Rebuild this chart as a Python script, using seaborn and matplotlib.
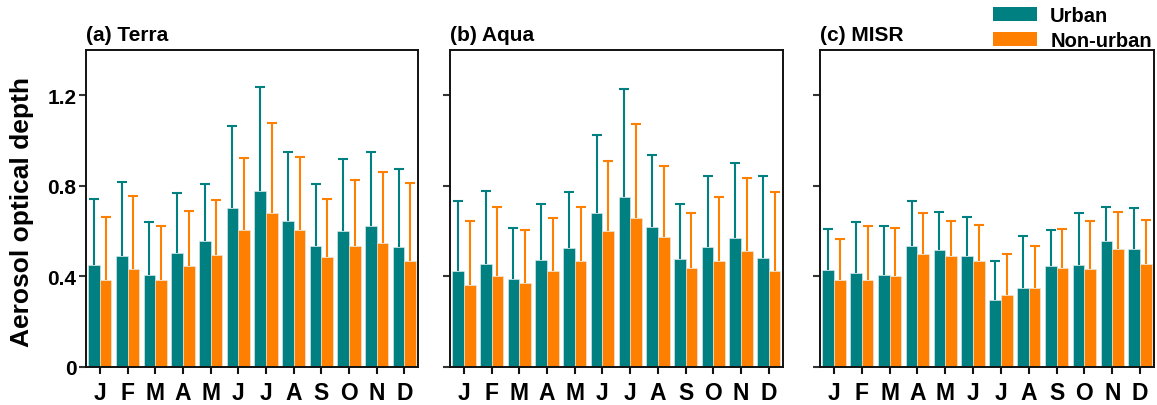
import numpy as np
import pandas as pd
import matplotlib
matplotlib.use("Agg")
import matplotlib.pyplot as plt
from matplotlib.patches import Patch
import seaborn as sns

months = ["J", "F", "M", "A", "M", "J", "J", "A", "S", "O", "N", "D"]
panel_titles = ["(a) Terra", "(b) Aqua", "(c) MISR"]
groups = ["Urban", "Non-urban"]

terra_urban = [0.450, 0.488, 0.407, 0.501, 0.554, 0.700, 0.775, 0.644, 0.532, 0.600, 0.622, 0.528]
terra_urban_top = [0.743, 0.816, 0.638, 0.766, 0.809, 1.062, 1.235, 0.951, 0.809, 0.916, 0.951, 0.875]
terra_non = [0.382, 0.431, 0.382, 0.446, 0.493, 0.606, 0.679, 0.606, 0.487, 0.534, 0.546, 0.468]
terra_non_top = [0.662, 0.754, 0.621, 0.690, 0.738, 0.922, 1.078, 0.928, 0.741, 0.825, 0.859, 0.813]

aqua_urban = [0.425, 0.454, 0.387, 0.471, 0.524, 0.679, 0.749, 0.616, 0.474, 0.528, 0.568, 0.482]
aqua_urban_top = [0.732, 0.776, 0.613, 0.719, 0.772, 1.026, 1.229, 0.935, 0.719, 0.841, 0.900, 0.841]
aqua_non = [0.360, 0.400, 0.368, 0.422, 0.466, 0.599, 0.656, 0.575, 0.437, 0.466, 0.510, 0.424]
aqua_non_top = [0.646, 0.707, 0.604, 0.656, 0.707, 0.910, 1.074, 0.888, 0.679, 0.749, 0.834, 0.772]

misr_urban = [0.426, 0.412, 0.404, 0.535, 0.516, 0.488, 0.296, 0.347, 0.443, 0.449, 0.556, 0.522]
misr_urban_top = [0.609, 0.638, 0.621, 0.732, 0.685, 0.662, 0.469, 0.579, 0.604, 0.679, 0.707, 0.701]
misr_non = [0.382, 0.385, 0.400, 0.497, 0.491, 0.468, 0.319, 0.347, 0.438, 0.432, 0.522, 0.453]
misr_non_top = [0.563, 0.621, 0.613, 0.679, 0.644, 0.626, 0.499, 0.534, 0.609, 0.644, 0.685, 0.650]

yticks = [0, 0.4, 0.8, 1.2]
ytick_labels = ["0", "0.4", "0.8", "1.2"]

teal = "#008080"
orange = "#FF8000"

sns.set_style("ticks")
plt.rcParams["font.family"] = ["Liberation Sans", "DejaVu Sans"]
plt.rcParams["font.weight"] = "bold"
plt.rcParams["text.color"] = "black"
plt.rcParams["xtick.color"] = "black"
plt.rcParams["ytick.color"] = "black"
plt.rcParams["xtick.labelcolor"] = "black"
plt.rcParams["ytick.labelcolor"] = "black"

fig = plt.figure(figsize=(11.57, 4.06), dpi=100)
W, H = 1157.0, 406.0
bottom = 1 - 367.7 / H
height = (367.7 - 51) / H
lefts = [86, 450, 820]
widths = [332.3, 332.7, 334]

panels = [
    (terra_urban, terra_urban_top, terra_non, terra_non_top),
    (aqua_urban, aqua_urban_top, aqua_non, aqua_non_top),
    (misr_urban, misr_urban_top, misr_non, misr_non_top),
]

for i, (u, ut, n, nt) in enumerate(panels):
    ax = fig.add_axes([lefts[i] / W, bottom, widths[i] / W, height])
    pos = list(range(12))
    df = pd.DataFrame({
        "pos": pos * 2,
        "val": u + n,
        "group": ["Urban"] * 12 + ["Non-urban"] * 12,
    })
    sns.barplot(data=df, x="pos", y="val", hue="group", hue_order=groups,
                palette=[teal, orange], width=0.84, errorbar=None,
                edgecolor="#e8f0f0", linewidth=0.4, legend=False, ax=ax,
                saturation=1)
    tops = [ut, nt]
    vals = [u, n]
    cols = [teal, orange]
    bar_conts = list(ax.containers)
    for k, cont in enumerate(bar_conts):
        xs = [p.get_x() + p.get_width() / 2 for p in cont.patches]
        v = np.array(vals[k])
        up = np.array(tops[k]) - v
        _, caps, _ = ax.errorbar(xs, v, yerr=[np.zeros_like(v), up], fmt="none",
                                 ecolor=cols[k], elinewidth=1.5, capsize=3.5,
                                 capthick=1.5, zorder=3)
        if len(caps) == 2:
            caps[0].set_visible(False)
    ax.set_xlim(-0.5, 11.5)
    ax.set_ylim(0, 1.4)
    ax.set_xticks(pos)
    ax.set_xticklabels(months, fontsize=16.5, fontweight="bold")
    ax.set_yticks(yticks)
    if i == 0:
        ax.set_yticklabels(ytick_labels, fontsize=15, fontweight="bold")
    else:
        ax.set_yticklabels([])
    ax.set_xlabel("")
    ax.set_ylabel("")
    ax.tick_params(axis="x", direction="out", length=5, width=1.5, pad=5.5, color="#111111")
    ax.tick_params(axis="y", direction="out", length=5, width=1.5, pad=2, color="#333333")
    for s in ax.spines.values():
        s.set_visible(True)
        s.set_linewidth(1.4)
        s.set_color("#111111")
    ax.set_title(panel_titles[i], loc="left", fontsize=15, fontweight="bold", pad=7)

fig.text(22 / W, 1 - 211.7 / H, "Aerosol optical depth", rotation=90,
         ha="center", va="center", fontsize=19, fontweight="bold")

handles = [Patch(facecolor=teal, edgecolor="none"), Patch(facecolor=orange, edgecolor="none")]
fig.legend(handles, groups, loc="upper right", bbox_to_anchor=(1.006, 1.012),
           frameon=False, prop={"size": 14.5, "weight": "bold"},
           handlelength=2.2, handleheight=0.7, handletextpad=0.65,
           labelspacing=0.3, borderaxespad=0.2)

fig.savefig("out.png", dpi=100)
